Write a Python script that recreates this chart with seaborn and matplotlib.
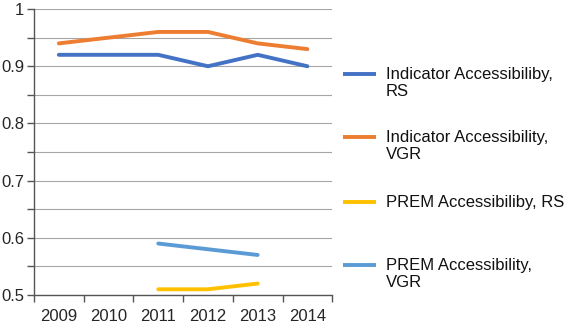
import numpy as np
import pandas as pd
import matplotlib
matplotlib.use('Agg')
import matplotlib.pyplot as plt
from matplotlib.lines import Line2D
import seaborn as sns

# data
years = ['2009', '2010', '2011', '2012', '2013', '2014']
ind_rs = [0.92, 0.92, 0.92, 0.90, 0.92, 0.90]
ind_vgr = [0.94, 0.95, 0.96, 0.96, 0.94, 0.93]
prem_rs = [np.nan, np.nan, 0.51, 0.51, 0.52, np.nan]
prem_vgr = [np.nan, np.nan, 0.59, 0.58, 0.57, np.nan]

names = ['Indicator Accessibiliby,\nRS', 'Indicator Accessibility,\nVGR',
         'PREM Accessibiliby, RS', 'PREM Accessibility,\nVGR']
colors = ['#4472C4', '#ED7D31', '#FFC000', '#5B9BD5']

df = pd.DataFrame({'x': range(len(years)), names[0]: ind_rs, names[1]: ind_vgr,
                   names[2]: prem_rs, names[3]: prem_vgr})
df = df.melt(id_vars='x', var_name='series', value_name='value').dropna()

sns.set_style('white')
plt.rcParams['font.family'] = ['Liberation Sans', 'DejaVu Sans']

W, H = 566, 324
fig = plt.figure(figsize=(W / 100, H / 100), dpi=100)
ax = fig.add_axes([0.060, 0.0895, 0.527, 0.8825])

sns.lineplot(data=df, x='x', y='value', hue='series', hue_order=names,
             palette=colors, linewidth=2.8, ax=ax, legend=False)

ax.set_xlim(-0.5, 5.5)
ax.set_ylim(0.5, 1.0)
ax.set_xticks(range(len(years)))
ax.set_xticklabels(years)
ax.set_xticks(np.arange(-0.5, 5.6, 1), minor=True)
ax.tick_params(axis='x', which='major', length=0, labelsize=12, pad=10)
ax.tick_params(axis='x', which='minor', length=5, width=1, color='#555555', direction='out', bottom=True)

ax.set_yticks(np.arange(0.5, 1.01, 0.1))
ax.set_yticklabels(['0.5', '0.6', '0.7', '0.8', '0.9', '1'])
ax.set_yticks(np.arange(0.55, 1.0, 0.1), minor=True)
ax.tick_params(axis='y', which='both', length=5, width=1, color='#555555', direction='out', left=True, labelsize=12, pad=2)
ax.grid(True, axis='y', which='both', color='#a6a6a6', linewidth=0.8)
ax.set_axisbelow(True)

ax.set_xlabel('')
ax.set_ylabel('')
for s in ['top', 'right']:
    ax.spines[s].set_visible(False)
for s in ['left', 'bottom']:
    ax.spines[s].set_color('#555555')
    ax.spines[s].set_linewidth(1)

# legend, drawn by hand so the key sits on the first text line
entry_y = [74, 137, 202, 265]
for name, c, yp in zip(names, colors, entry_y):
    fy = 1 - yp / H
    fig.add_artist(Line2D([343 / W, 376 / W], [fy, fy], color=c, linewidth=2.8,
                          solid_capstyle='butt', transform=fig.transFigure))
    fig.text(386 / W, 1 - (yp - 7) / H, name, fontsize=12, va='top', ha='left',
             linespacing=1.17, color='#111111')

fig.savefig('out.png', dpi=100)
